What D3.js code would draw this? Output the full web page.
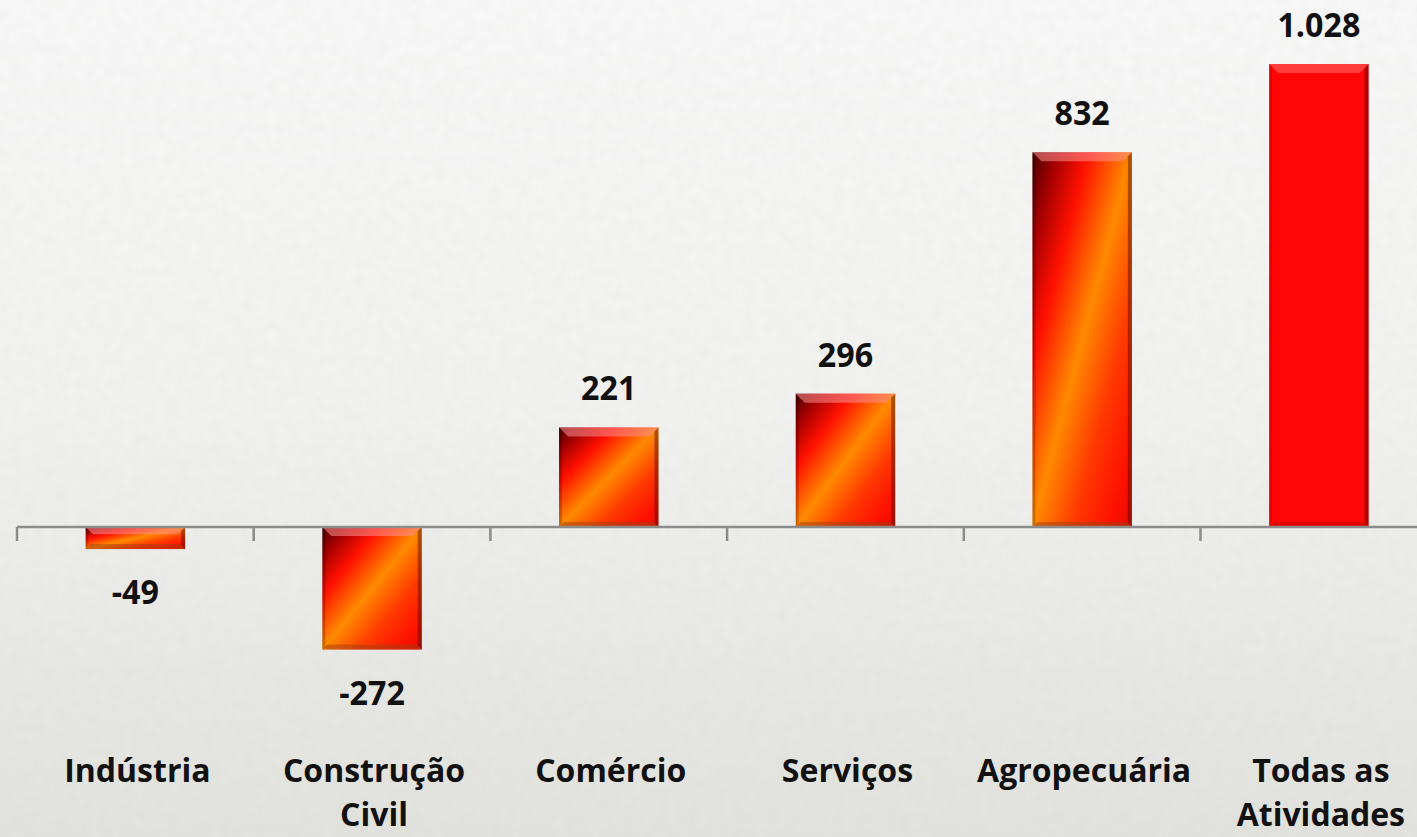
<!DOCTYPE html>
<html>
<head>
<meta charset="utf-8">
<script src="https://cdn.jsdelivr.net/npm/d3@7"></script>
<style>
  html, body { margin: 0; padding: 0; overflow: hidden; }
  svg { display: block; }
</style>
</head>
<body>
<svg id="chart" width="1417" height="837"></svg>
<script>
const categories = ["Indústria", "Construção Civil", "Comércio", "Serviços", "Agropecuária", "Todas as Atividades"];
const labelLines = [["Indústria"], ["Construção", "Civil"], ["Comércio"], ["Serviços"], ["Agropecuária"], ["Todas as", "Atividades"]];
const values = [-49, -272, 221, 296, 832, 1028];
const valueLabels = ["-49", "-272", "221", "296", "832", "1.028"];

const W = 1417, H = 837;
const svg = d3.select("#chart");
const defs = svg.append("defs");

// background
const bg = defs.append("linearGradient").attr("id", "bg").attr("x1", 0).attr("y1", 0).attr("x2", 0).attr("y2", 1);
bg.append("stop").attr("offset", 0).attr("stop-color", "#f9f9f9");
bg.append("stop").attr("offset", 0.5).attr("stop-color", "#f2f2f1");
bg.append("stop").attr("offset", 1).attr("stop-color", "#e2e2de");
const noise = defs.append("filter").attr("id", "noise").attr("x", 0).attr("y", 0).attr("width", 1).attr("height", 1);
noise.append("feTurbulence").attr("type", "fractalNoise").attr("baseFrequency", 0.09).attr("numOctaves", 2).attr("seed", 3).attr("result", "t");
noise.append("feColorMatrix").attr("in", "t").attr("type", "matrix")
  .attr("values", "0 0 0 0 0.55  0 0 0 0 0.55  0 0 0 0 0.52  0 0 0 0.12 0");
svg.append("rect").attr("width", W).attr("height", H).attr("fill", "url(#bg)");
svg.append("rect").attr("width", W).attr("height", H).attr("filter", "url(#noise)");

// bar gradients
const g1 = defs.append("linearGradient").attr("id", "barGrad").attr("x1", 0).attr("y1", 0).attr("x2", 1).attr("y2", 1);
[[0, "#4a0000"], [0.12, "#a00000"], [0.28, "#ff1000"], [0.5, "#ff8a00"], [0.7, "#ff3a00"], [0.88, "#ff1200"], [1, "#e80800"]]
  .forEach(([o, c]) => g1.append("stop").attr("offset", o).attr("stop-color", c));

const x = d3.scaleBand().domain(categories).range([17, 17 + 6 * 236.7]).padding(0);
const y = d3.scaleLinear().domain([0, 1028]).range([527, 64]);
const barW = x.bandwidth() * 0.42;

const data = categories.map((c, i) => ({ c, v: values[i], label: valueLabels[i], lines: labelLines[i], i }));

const bars = svg.append("g");
data.forEach(d => {
  const cx = x(d.c) + x.bandwidth() / 2;
  const x0 = cx - barW / 2, x1 = cx + barW / 2;
  const yt = Math.min(y(d.v), y(0)), yb = Math.max(y(d.v), y(0));
  const h = yb - yt;
  const last = d.i === categories.length - 1;
  const g = bars.append("g");
  g.append("rect").attr("x", x0).attr("y", yt).attr("width", barW).attr("height", h)
    .attr("fill", last ? "#ff0606" : "url(#barGrad)");
  const bev = Math.min(9, h / 3);
  // top bevel highlight
  g.append("polygon")
    .attr("points", [[x0, yt], [x1, yt], [x1 - bev, yt + bev], [x0 + bev, yt + bev]].map(p => p.join(",")).join(" "))
    .attr("fill", "#ff9090").attr("opacity", last ? 0.4 : 0.55);
  // left edge
  g.append("polygon")
    .attr("points", [[x0, yt], [x0 + 3, yt + 3], [x0 + 3, yb - 3], [x0, yb]].map(p => p.join(",")).join(" "))
    .attr("fill", "#000").attr("opacity", last ? 0.12 : 0.2);
  // right edge
  g.append("polygon")
    .attr("points", [[x1, yt], [x1 - 4, yt + 4], [x1 - 4, yb - 4], [x1, yb]].map(p => p.join(",")).join(" "))
    .attr("fill", last ? "#600000" : "#4a1000").attr("opacity", last ? 0.5 : 0.45);
  // bottom edge
  g.append("polygon")
    .attr("points", [[x0, yb], [x1, yb], [x1 - 5, yb - 5], [x0 + 5, yb - 5]].map(p => p.join(",")).join(" "))
    .attr("fill", last ? "#b00000" : "#a04010").attr("opacity", last ? 0.35 : 0.5);
});

// axis
const axisY = y(0);
const axis = svg.append("g").attr("transform", `translate(0,${axisY})`);
axis.append("line").attr("x1", x.range()[0]).attr("x2", W).attr("y1", 0).attr("y2", 0)
  .attr("stroke", "#8c8c8c").attr("stroke-width", 2.5);
categories.forEach(c => {
  axis.append("line").attr("x1", x(c)).attr("x2", x(c)).attr("y1", 0).attr("y2", 14)
    .attr("stroke", "#8c8c8c").attr("stroke-width", 2.5);
});

const font = "'Open Sans', 'DejaVu Sans', sans-serif";
const sy = 1.12;

// value labels
svg.append("g").selectAll("text").data(data).join("text")
  .attr("transform", d => `translate(${x(d.c) + x.bandwidth() / 2},${d.v >= 0 ? y(d.v) - 27 : y(d.v) + 55}) scale(1.04,${sy})`)
  .attr("text-anchor", "middle")
  .attr("font-family", font).attr("font-weight", 700).attr("font-size", 31)
  .attr("fill", "#111")
  .text(d => d.label);

// category labels (one text per category, lines as tspans)
const cl = svg.append("g");
data.forEach(d => {
  const cx = x(d.c) + x.bandwidth() / 2 + 2;
  const t = cl.append("text")
    .attr("text-anchor", "middle")
    .attr("font-family", font).attr("font-weight", 700).attr("font-size", 32)
    .attr("fill", "#111");
  d.lines.forEach((ln, k) => {
    t.append("tspan").attr("x", cx).attr("y", 782 + k * 44).text(ln);
  });
});
</script>
</body>
</html>
